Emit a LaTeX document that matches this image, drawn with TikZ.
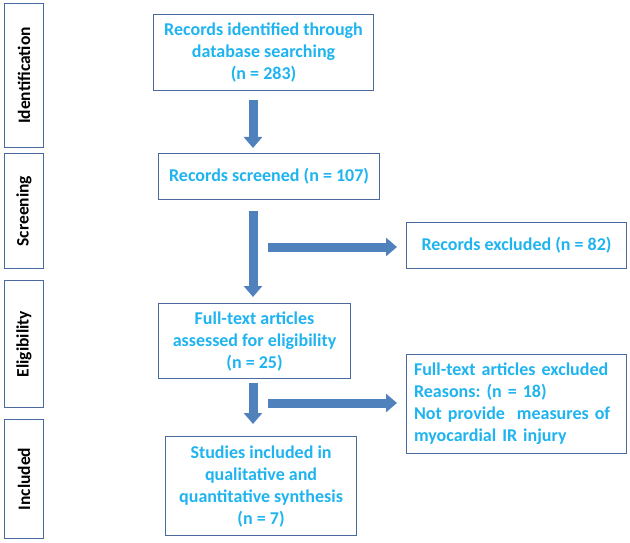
\documentclass[tikz,border=0pt]{standalone}
\usepackage{fontspec}
\setmainfont{Carlito}
\frenchspacing
\usetikzlibrary{arrows.meta}
\definecolor{txtblue}{HTML}{1FB4F0}
\definecolor{boxline}{HTML}{4A6A9E}
\definecolor{arrfill}{HTML}{4F81BD}
\tikzset{
  flowbox/.style={draw=boxline, line width=1.1pt, fill=white, align=center,
    font=\bfseries\fontsize{18}{22}\selectfont, text=txtblue, inner sep=0pt},
  sidebox/.style={draw=boxline, line width=1.1pt, fill=white},
  sidelabel/.style={rotate=90, font=\bfseries\fontsize{17.5}{19}\selectfont, text=black},
  fatarrow/.style={draw=arrfill, line width=9pt,
    -{Triangle[width=18pt,length=11pt]}},
}
\begin{document}
\begin{tikzpicture}[x=1pt,y=-1pt]
\useasboundingbox (0,0) rectangle (630,543);
% side boxes
\node[sidebox, minimum width=39pt, minimum height=144pt, anchor=north west] (sid) at (4,3) {};
\node[sidelabel] (lid) at (sid.center) {Identification};
\node[sidebox, minimum width=39pt, minimum height=115pt, anchor=north west] (ssc) at (4,153) {};
\node[sidelabel] (lsc) at (ssc.center) {Screening};
\node[sidebox, minimum width=39pt, minimum height=127pt, anchor=north west] (sel) at (4,280) {};
\node[sidelabel] (lel) at (sel.center) {Eligibility};
\node[sidebox, minimum width=39pt, minimum height=119pt, anchor=north west] (sin) at (4,419) {};
\node[sidelabel] (lin) at (sin.center) {Included};
% main boxes
\node[flowbox, minimum width=220pt, minimum height=76pt, anchor=north west] (b1) at (153,14)
  {Records identified through\\database searching\\(n = 283)};
\node[flowbox, minimum width=221pt, minimum height=46pt, anchor=north west] (b2) at (158,153)
  {Records screened (n = 107)};
\node[flowbox, minimum width=220pt, minimum height=46pt, anchor=north west] (ex1) at (406,222)
  {Records excluded (n = 82)};
\node[flowbox, minimum width=192pt, minimum height=75pt, anchor=north west] (b3) at (158,303)
  {Full-text articles\\assessed for eligibility\\(n = 25)};
\node[flowbox, minimum width=220pt, minimum height=99pt, anchor=north west, align=left, text width=205pt] (ex2) at (406,354)
  {Full-text articles excluded\\Reasons: (n = 18)\\Not provide\ \ measures of\\myocardial IR injury};
\node[flowbox, minimum width=191pt, minimum height=99pt, anchor=north west] (b4) at (165,436)
  {Studies included in\\qualitative and\\quantitative synthesis\\(n = 7)};
% arrows
\coordinate (a1s) at (253,100);
\coordinate (a2s) at (253,211);
\coordinate (a3s) at (253,383);
\coordinate (h1s) at (268,247);
\coordinate (h2s) at (268,403);
\draw[fatarrow, shorten >=5pt] (a1s) -- (a1s |- b2.north);
\draw[fatarrow, shorten >=6pt] (a2s) -- (a2s |- b3.north);
\draw[fatarrow, shorten >=12pt] (a3s) -- (a3s |- b4.north);
\draw[fatarrow, shorten >=9pt] (h1s) -- (h1s -| ex1.west);
\draw[fatarrow, shorten >=9pt] (h2s) -- (h2s -| ex2.west);
\end{tikzpicture}
\end{document}
